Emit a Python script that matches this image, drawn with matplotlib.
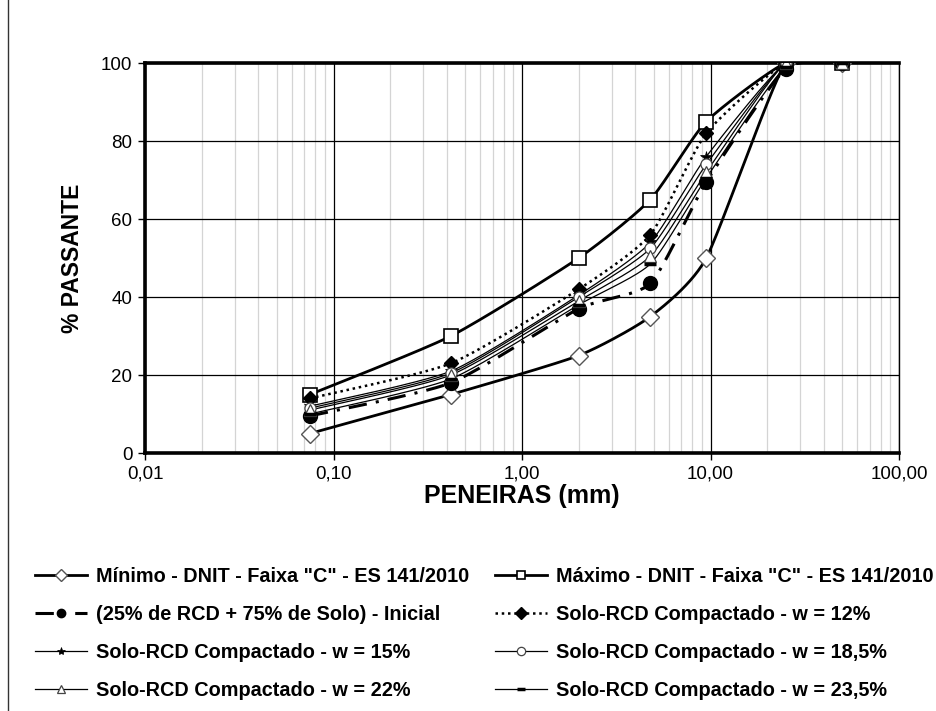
import numpy as np
import matplotlib
matplotlib.use("Agg")
import matplotlib.pyplot as plt
from matplotlib.lines import Line2D
from matplotlib.ticker import FixedLocator, NullFormatter

plt.rcParams['font.family'] = ['Liberation Sans', 'DejaVu Sans']

# ---- data ----
sieves = [0.075, 0.42, 2.0, 4.8, 9.5, 25.0, 50.0]
minimo = [5, 15, 25, 35, 50, 100, 100]
maximo = [15, 30, 50, 65, 85, 100, 100]
inicial = [9.5, 18, 37, 43.5, 69.5, 98.5, 100]
w12 = [14, 23, 42, 56, 82, 100, 100]
w15 = [12, 21, 40.5, 54, 76, 100, 100]
w185 = [11.5, 20.5, 40, 52.5, 74, 100, 100]
w22 = [11, 20, 39, 50.5, 72, 100, 100]
w235 = [10, 19, 38, 48.5, 70.5, 99, 100]

labels = [
    'Mínimo - DNIT - Faixa "C" - ES 141/2010',
    'Máximo - DNIT - Faixa "C" - ES 141/2010',
    '(25% de RCD + 75% de Solo) - Inicial',
    'Solo-RCD Compactado - w = 12%',
    'Solo-RCD Compactado - w = 15%',
    'Solo-RCD Compactado - w = 18,5%',
    'Solo-RCD Compactado - w = 22%',
    'Solo-RCD Compactado - w = 23,5%',
]
xticks = [0.01, 0.1, 1, 10, 100]
xticklabels = ['0,01', '0,10', '1,00', '10,00', '100,00']
yticks = [0, 20, 40, 60, 80, 100]


def smooth(xs, ys, n=30, k=10.0):
    """Bezier smoothing through points in (log10 x, y) space (Excel-like smoothed line)."""
    lx = np.log10(np.asarray(xs, float))
    y = np.asarray(ys, float)
    P = np.column_stack([lx, y])
    pts = []
    for i in range(len(P) - 1):
        p0 = P[i - 1] if i > 0 else P[i]
        p1 = P[i]
        p2 = P[i + 1]
        p3 = P[i + 2] if i + 2 < len(P) else P[i + 1]
        c1 = p1 + (p2 - p0) / k
        c2 = p2 - (p3 - p1) / k
        t = np.linspace(0, 1, n)[:, None]
        seg = ((1 - t) ** 3) * p1 + 3 * ((1 - t) ** 2) * t * c1 + 3 * (1 - t) * t ** 2 * c2 + t ** 3 * p2
        pts.append(seg if i == 0 else seg[1:])
    pts = np.vstack(pts)
    return 10 ** pts[:, 0], pts[:, 1]


fig = plt.figure(figsize=(9.36, 7.11), dpi=100)
ax = fig.add_axes([145 / 936, 1 - 453 / 711, (899 - 145) / 936, (453 - 63) / 711])
ax.set_xscale('log')
ax.set_xlim(0.01, 100)
ax.set_ylim(0, 100)

styles = [
    (minimo, dict(color='black', lw=2.0, ls='-'), dict(marker='D', ms=9, mfc='white', mec='#555555', mew=1.0)),
    (maximo, dict(color='black', lw=2.0, ls='-'), dict(marker='s', ms=10, mfc='white', mec='black', mew=1.2)),
    (inicial, dict(color='black', lw=2.2, ls=(0, (6, 3, 1, 3))), dict(marker='o', ms=10, mfc='black', mec='black')),
    (w12, dict(color='black', lw=1.8, ls=(0, (1, 1.5))), dict(marker='D', ms=7.5, mfc='black', mec='black')),
    (w15, dict(color='black', lw=0.9, ls='-'), dict(marker='*', ms=9, mfc='black', mec='black', mew=0.5)),
    (w185, dict(color='black', lw=0.9, ls='-'), dict(marker='o', ms=8, mfc='white', mec='#444444', mew=0.9)),
    (w22, dict(color='black', lw=0.9, ls='-'), dict(marker='^', ms=8, mfc='white', mec='#444444', mew=0.9)),
    (w235, dict(color='black', lw=0.9, ls='-'), dict(marker='_', ms=8, mfc='black', mec='black', mew=2.5)),
]

handles = []
for (ys, lst, mst) in styles:
    sx, sy = smooth(sieves, ys)
    ax.plot(sx, sy, zorder=3, **lst)
    ax.plot(sieves, ys, ls='none', zorder=4, **mst)
    handles.append(Line2D([0], [0], **lst, **mst))

# grid
ax.xaxis.set_major_locator(FixedLocator(xticks))
ax.xaxis.set_minor_locator(FixedLocator([m * 10.0 ** e for e in range(-2, 2) for m in range(2, 10)]))
ax.xaxis.set_minor_formatter(NullFormatter())
ax.set_xticks(xticks)
ax.set_xticklabels(xticklabels)
ax.set_yticks(yticks)
ax.set_yticklabels([str(v) for v in yticks])
ax.grid(which='minor', axis='x', color='#d4d4d4', lw=0.9)
ax.grid(which='major', axis='x', color='black', lw=0.9)
ax.grid(which='major', axis='y', color='black', lw=0.9)
ax.set_axisbelow(True)
ax.tick_params(which='major', length=5, width=1, labelsize=13.5, colors='black', pad=4)
ax.tick_params(which='minor', length=0)
for s in ['left', 'bottom', 'top']:
    ax.spines[s].set_linewidth(2.6)
ax.spines['right'].set_linewidth(1.0)

ax.set_xlabel('PENEIRAS (mm)', fontsize=18, fontweight='bold', labelpad=1)
ax.set_ylabel('% PASSANTE', fontsize=16.5, fontweight='bold', labelpad=12)

# legend in two columns
col1 = [0, 2, 4, 6]
col2 = [1, 3, 5, 7]
common = dict(frameon=False, prop={'weight': 'bold', 'size': 14.3},
              handlelength=2.6, handletextpad=0.45, labelspacing=0.96, borderaxespad=0)
leg1 = fig.legend([handles[i] for i in col1], [labels[i] for i in col1],
                  loc='upper left', bbox_to_anchor=(27 / 936, 1 - 559 / 711), **common)
leg2 = fig.legend([handles[i] for i in col2], [labels[i] for i in col2],
                  loc='upper left', bbox_to_anchor=(487 / 936, 1 - 559 / 711), **common)
for leg in (leg1, leg2):
    for h in leg.legend_handles:
        h.set_markersize(6)

# chart-area border
fig.add_artist(Line2D([8 / 936, 8 / 936], [0, 1], color='#333333', lw=1.0))

fig.savefig('out.png', dpi=100)
